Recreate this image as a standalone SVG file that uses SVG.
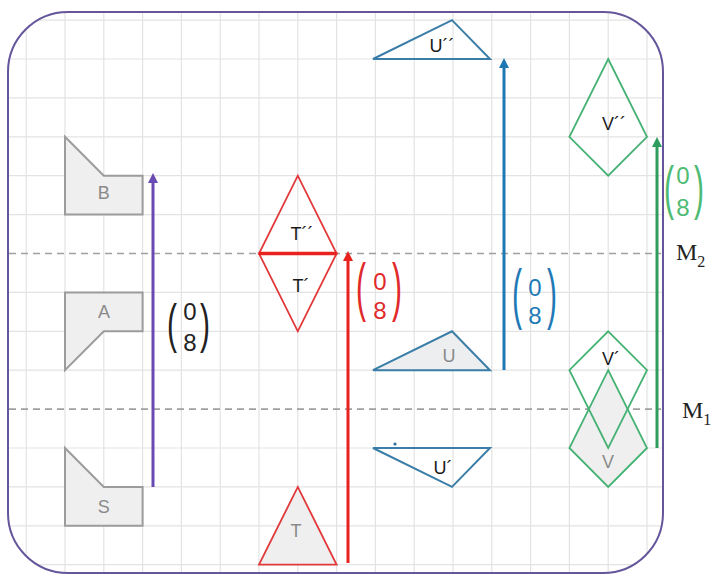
<svg xmlns="http://www.w3.org/2000/svg" width="720" height="581" viewBox="0 0 720 581">
<style>
.grid{stroke:#e3e3e3;stroke-width:1.2;fill:none}
.mirror{stroke:#a0a0a0;stroke-width:1.6;stroke-dasharray:7 5;fill:none}
.gshape{fill:#efefef;stroke:#9c9c9c;stroke-width:2;stroke-linejoin:miter}
.red{fill:none;stroke:#e2383a;stroke-width:1.8}
.blue{fill:none;stroke:#3a7ea8;stroke-width:2}
.green{fill:none;stroke:#45b274;stroke-width:1.8}
.lbl{font-family:"Liberation Sans",Arial,sans-serif;font-size:18px;text-anchor:middle}
.gl{fill:#8a8a8a}
.bl{fill:#1a1a1a}
.num{font-family:"Liberation Sans",Arial,sans-serif;font-size:24px;text-anchor:middle}
.par{font-family:"Liberation Sans",Arial,sans-serif;font-size:30px}
.m{font-family:"Liberation Serif","Times New Roman",serif;font-size:24px;fill:#222}
.arr{stroke-width:3;fill:none}
</style>
<defs>
<clipPath id="frame"><rect x="8" y="12" width="655" height="561" rx="60" ry="60"/></clipPath>
<marker id="hP" viewBox="0 0 10 10" refX="2" refY="5" markerWidth="10" markerHeight="10" markerUnits="userSpaceOnUse" orient="auto"><path d="M0,0 L10,5 L0,10 z" fill="#6a4bb3"/></marker>
<marker id="hR" viewBox="0 0 10 10" refX="2" refY="5" markerWidth="10" markerHeight="10" markerUnits="userSpaceOnUse" orient="auto"><path d="M0,0 L10,5 L0,10 z" fill="#e8231f"/></marker>
<marker id="hB" viewBox="0 0 10 10" refX="2" refY="5" markerWidth="10" markerHeight="10" markerUnits="userSpaceOnUse" orient="auto"><path d="M0,0 L10,5 L0,10 z" fill="#1f78b4"/></marker>
<marker id="hG" viewBox="0 0 10 10" refX="2" refY="5" markerWidth="10" markerHeight="10" markerUnits="userSpaceOnUse" orient="auto"><path d="M0,0 L10,5 L0,10 z" fill="#2e9c5c"/></marker>
</defs>
<rect width="720" height="581" fill="#ffffff"/>
<g id="grid" clip-path="url(#frame)">
<path class="grid" d="M26.2,0V581M65,0V581M103.8,0V581M142.6,0V581M181.4,0V581M220.2,0V581M259,0V581M297.8,0V581M336.6,0V581M375.4,0V581M414.2,0V581M453,0V581M491.8,0V581M530.6,0V581M569.4,0V581M608.2,0V581M647,0V581M685.8,0V581"/>
<path class="grid" d="M0,20.1H720M0,59H720M0,97.9H720M0,136.8H720M0,175.7H720M0,214.6H720M0,292.4H720M0,331.3H720M0,370.2H720M0,448H720M0,486.9H720M0,525.8H720M0,564.7H720"/>
</g>
<g id="mirrors">
<line class="mirror" x1="9" y1="253.5" x2="661" y2="253.5"/>
<line class="mirror" x1="9" y1="409.1" x2="661" y2="409.1"/>
<text class="m" x="676" y="260">M<tspan font-size="16" dy="7">2</tspan></text>
<text class="m" x="682" y="418">M<tspan font-size="16" dy="7">1</tspan></text>
</g>
<g id="frame-border"><rect x="8" y="12" width="655" height="561" rx="60" ry="60" fill="none" stroke="#65569b" stroke-width="2"/></g>
<g id="node-S"><polygon class="gshape" points="65,448 103.8,486.9 142.6,486.9 142.6,525.8 65,525.8"/><text class="lbl gl" x="103.8" y="513">S</text></g>
<g id="node-A"><polygon class="gshape" points="65,292.4 142.6,292.4 142.6,331.3 103.8,331.3 65,370.2"/><text class="lbl gl" x="104" y="318">A</text></g>
<g id="node-B"><polygon class="gshape" points="65,136.8 103.8,175.7 142.6,175.7 142.6,214.6 65,214.6"/><text class="lbl gl" x="103.8" y="199">B</text></g>
<g id="node-T"><polygon class="red" fill="#efefef" style="fill:#efefef" points="259,564.7 336.6,564.7 297.8,486.9"/><text class="lbl gl" x="296" y="537">T</text></g>
<g id="node-T1"><polygon class="red" points="259,253.5 336.6,253.5 297.8,331.3"/><text class="lbl bl" x="301" y="292">T´</text></g>
<g id="node-T2"><polygon class="red" points="259,253.5 336.6,253.5 297.8,175.7"/><line x1="259" y1="253.5" x2="336.6" y2="253.5" stroke="#e8231f" stroke-width="3.5"/><text class="lbl bl" x="302" y="240">T´´</text></g>
<g id="node-U"><polygon class="blue" style="fill:#eceeef" points="373,370.2 490,370.2 452,331.3"/><text class="lbl gl" x="449" y="362">U</text></g>
<g id="node-U1"><polygon class="blue" points="373,448 490,448 452,486.9"/><circle cx="395" cy="444" r="1.6" fill="#2a6f9e"/><text class="lbl bl" x="443" y="474">U´</text></g>
<g id="node-U2"><polygon class="blue" points="373,59 490,59 452,20.1"/><text class="lbl bl" x="442" y="52">U´´</text></g>
<g id="node-V"><polygon class="green" style="fill:#efefef" points="608.2,370.2 647,448 608.2,486.9 569.4,448"/><text class="lbl gl" x="608" y="468">V</text></g>
<g id="node-V1"><polygon class="green" points="608.2,331.3 647,370.2 608.2,448 569.4,370.2"/><text class="lbl bl" x="611" y="365">V´</text></g>
<g id="node-V2"><polygon class="green" points="608.2,59 647,136.8 608.2,175.7 569.4,136.8"/><text class="lbl bl" x="614" y="130">V´´</text></g>
<g id="connectors">
<line class="arr" x1="153" y1="487" x2="153" y2="181" stroke="#6a4bb3" marker-end="url(#hP)"/>
<line class="arr" x1="348" y1="563" x2="348" y2="259" stroke="#e8231f" marker-end="url(#hR)"/>
<line class="arr" x1="504" y1="370" x2="504" y2="66" stroke="#1f78b4" marker-end="url(#hB)"/>
<line class="arr" x1="657" y1="448" x2="657" y2="145" stroke="#2e9c5c" marker-end="url(#hG)"/>
</g>
<g id="vector-black" fill="#222">
<text class="par" transform="translate(167,341.5) scale(1,1.81)">(</text>
<text class="num" x="190" y="320">0</text>
<text class="num" x="190" y="351">8</text>
<text class="par" transform="translate(200,341.5) scale(1,1.81)">)</text>
</g>
<g id="vector-red" fill="#e02a2a">
<text class="par" transform="translate(356,308.5) scale(1,2.13)">(</text>
<text class="num" x="380" y="290">0</text>
<text class="num" x="380" y="319">8</text>
<text class="par" transform="translate(392,308.5) scale(1,2.13)">)</text>
</g>
<g id="vector-blue" fill="#1f7ab5">
<text class="par" transform="translate(512,316) scale(1,2.2)">(</text>
<text class="num" x="535" y="296">0</text>
<text class="num" x="535" y="324">8</text>
<text class="par" transform="translate(547,316) scale(1,2.2)">)</text>
</g>
<g id="vector-green" fill="#4dbb73">
<text class="par" transform="translate(664,207.6) scale(1,1.95)">(</text>
<text class="num" x="683" y="184">0</text>
<text class="num" x="683" y="216">8</text>
<text class="par" transform="translate(694,207.6) scale(1,1.95)">)</text>
</g>
</svg>
